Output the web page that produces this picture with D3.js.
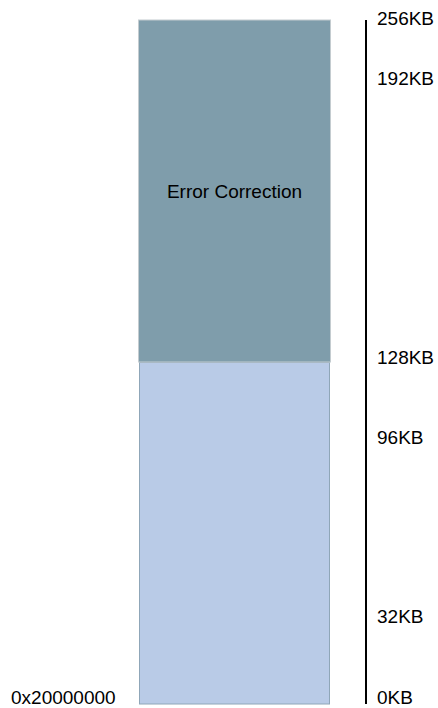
<!DOCTYPE html>
<html>
<head>
  <meta charset="UTF-8">
  <title>Memory map</title>
  <script src="https://d3js.org/d3.v7.min.js"></script>
  <style>
    body { margin: 0; background: #fff; }
    text { font-family: "Liberation Sans", Arial, sans-serif; }
  </style>
</head>
<body>
  <div id="chart"></div>
  <script>
    // memory regions (KB offsets from base)
    const regionNames = ["", "Error Correction"];
    const regionStart = [0, 128];
    const regionEnd = [128, 256];
    const regionFill = ["#b9cbe7", "#7f9dab"];

    // address ticks shown on the right
    const tickValues = [0, 32, 96, 128, 192, 256];
    const tickLabels = ["0KB", "32KB", "96KB", "128KB", "192KB", "256KB"];
    const baseAddress = "0x20000000";

    const width = 438, height = 708;
    const margin = { top: 20, bottom: 4 };
    const fontSize = "19px";

    const svg = d3.select("#chart")
      .append("svg")
      .attr("width", width)
      .attr("height", height);

    const y = d3.scaleLinear()
      .domain([0, 256])
      .range([height - margin.bottom, margin.top]);

    // labels are not spaced evenly in the original drawing
    const labelY = d3.scaleLinear()
      .domain(tickValues)
      .range([704, 623, 444, 364, 85, 25]);

    const x = d3.scaleBand()
      .domain(["mem"])
      .range([138.5, 330.5]);

    svg.selectAll(".block")
      .data(regionStart)
      .enter()
      .append("rect")
      .attr("class", "block")
      .attr("x", (d, i) => x("mem") + (i == 0 ? 1 : 0))
      .attr("width", (d, i) => x.bandwidth() - (i == 0 ? 2 : 0))
      .attr("y", (d, i) => y(regionEnd[i]) + (i == 0 ? 0.5 : 0))
      .attr("height", (d, i) => y(d) - y(regionEnd[i]) - (i == 0 ? 0.5 : 0))
      .attr("fill", (d, i) => regionFill[i])
      .attr("stroke", (d, i) => i == 0 ? "#8fa6b8" : "#c4ccd0")
      .attr("stroke-width", 1);

    svg.selectAll(".blockLabel")
      .data(regionNames)
      .enter()
      .append("text")
      .attr("class", "blockLabel")
      .attr("x", x("mem") + x.bandwidth() / 2)
      .attr("y", (d, i) => y(regionEnd[i]) + 178)
      .attr("text-anchor", "middle")
      .style("font-size", fontSize)
      .text(d => d);

    // right-hand scale
    svg.append("line")
      .attr("x1", 366).attr("x2", 366)
      .attr("y1", y(256)).attr("y2", y(0))
      .attr("stroke", "#000")
      .attr("stroke-width", 2);

    svg.selectAll(".tick")
      .data(tickValues)
      .enter()
      .append("text")
      .attr("class", "tick")
      .attr("x", 377)
      .attr("y", d => labelY(d))
      .style("font-size", fontSize)
      .text((d, i) => tickLabels[i]);

    svg.append("text")
      .attr("x", 11)
      .attr("y", 704)
      .style("font-size", fontSize)
      .text(baseAddress);
  </script>
</body>
</html>
